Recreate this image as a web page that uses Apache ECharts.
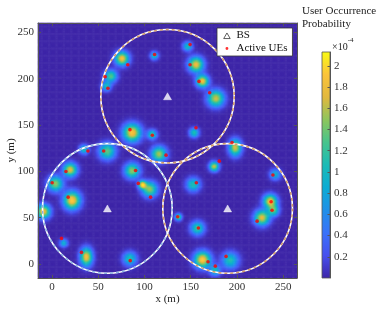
<!DOCTYPE html>
<html><head><meta charset="utf-8">
<script src="https://cdn.jsdelivr.net/npm/echarts@6/dist/echarts.min.js"></script>
<style>html,body{margin:0;padding:0;background:#fff}#c{width:381px;height:312px}</style>
</head><body><div id="c"></div>
<script>
// ---- data ----
const xTicks = [0, 50, 100, 150, 200, 250];
const yTicks = [0, 50, 100, 150, 200, 250];
const cbTicks = [0.2, 0.4, 0.6, 0.8, 1, 1.2, 1.4, 1.6, 1.8, 2];
const bsX = [60, 125, 190];
const bsY = [60, 181, 60];
const cellR = [70, 72, 70];
const ueX = [82, 111, 57.7, 60.6, 84.4, 108.6, 39, 56, 123.4, 15.2, 0.3, 17.6, 90.5, 93.4, 106.7, 10.4, 32, 84.7,
             149.4, 149.4, 159, 170.6, 155.8, 194.8, 181, 239, 156.2, 237, 238, 221.9, 136, 158.4, 168.8, 188.3, 176.7];
const ueY = [215, 226, 202, 189.7, 145, 139, 122, 122, 117.5, 99.9, 87.7, 72.2, 101, 87, 72.2, 27.7, 12.6, 3.7,
             236.7, 214.9, 197, 184.7, 147, 131, 111, 96, 87.7, 67.2, 58, 46.3, 51, 39, 2.6, 8.3, -2.2];
// occurrence-probability hot spots (x, y, peak in 1e-4, spread x, spread y)
const blobX = [76, 111, 64, 59, 87, 108.6, 35, 60, 116, 20, 4, 22, -9, 87, 98, 106, 13, 37.5, 84.5,
               147, 156, 163, 177.5, 154, 198.4, 175.6, 241.7, 153, 236.3, 240, 227.3, 137, 157.6, 163, 193, 176.7];
const blobY = [222, 225, 203, 192, 142, 140, 124, 122, 119, 102, 87, 69, 57, 101, 86, 81, 23, 8, 6,
               235, 215.5, 197.6, 179, 142, 126, 105.6, 97, 86, 68, 58, 50.3, 51, 39, 5, 4.3, -6.5];
const blobPeak = [1.85, 1.0, 1.3, 1.0, 1.9, 1.2, 1.0, 1.35, 1.55, 1.75, 1.5, 1.95, 1.85, 1.5, 1.75, 1.5, 0.9, 1.85, 1.1,
                  1.0, 1.8, 1.85, 1.65, 1.1, 1.7, 1.65, 0.9, 1.1, 1.85, 1.2, 1.75, 1.4, 1.2, 1.95, 1.1, 1.0];
const blobSx = [5, 3, 4.5, 3.5, 6.5, 3.5, 3.5, 6, 5.5, 5, 5.5, 6, 5, 5.5, 3, 5.5, 3, 4.5, 5,
                3.5, 5.5, 4.5, 6, 3.5, 4.5, 3.5, 4, 5, 5, 4, 5.5, 2.5, 5, 6, 6, 4];
const blobSy = [5, 3, 4.5, 3.5, 6.5, 3.5, 3.5, 6, 5.5, 5, 5.5, 6.5, 5, 5.5, 3, 5.5, 3, 6.5, 5,
                3.5, 5.5, 4.5, 6, 3.5, 6, 3.5, 4, 5, 5, 4, 5.5, 2.5, 5, 6, 6, 4];
const xMin = -15, xMax = 265, yMin = -15, yMax = 260;
const cbMax = 2.13;
const parula = ['#3e26a8', '#4750ee', '#3a72fa', '#2090e8', '#0cacd4', '#1bbbb6', '#47c48c',
                '#8ec55c', '#e2b83e', '#fbc43a', '#f9fb15'];

// ---- build field grid ----
const step = 1.25;
const nx = Math.round((xMax - xMin) / step), ny = Math.round((yMax - yMin) / step);
const xCats = [], yCats = [];
for (let i = 0; i < nx; i++) xCats.push(i);
for (let j = 0; j < ny; j++) yCats.push(j);
const field = [];
for (let j = 0; j < ny; j++) {
  const y = yMin + (j + 0.5) * step;
  for (let i = 0; i < nx; i++) {
    const x = xMin + (i + 0.5) * step;
    let v = 0;
    for (let k = 0; k < blobX.length; k++) {
      const dx = (x - blobX[k]) / blobSx[k], dy = (y - blobY[k]) / blobSy[k];
      v += blobPeak[k] * Math.exp(-0.5 * (dx * dx + dy * dy));
    }
    field.push([i, j, v]);
  }
}

const FONT = 'Liberation Serif';
const axisCol = '#555';
const G = () => ({left: 38, top: 23, width: 259, height: 255, containLabel: false, outerBoundsMode: 'none'});
const chart = echarts.init(document.getElementById('c'), null, {renderer: 'canvas'});
const circleCols = ['#8db3e2', '#d29b6c', '#d29b6c'];
const lineBase = () => ({show: true, onZero: false, lineStyle: {color: axisCol, width: 1}});
const tickBase = (vals, len) => ({show: true, inside: true, length: len, customValues: vals, lineStyle: {color: axisCol, width: 1}});

chart.setOption({
  animation: false,
  grid: [G(), G(), {left: 322, top: 52, width: 8, height: 226, containLabel: false, outerBoundsMode: 'none'}],
  xAxis: [
    {type: 'value', gridIndex: 0, min: xMin, max: xMax, position: 'bottom', z: 10,
     name: 'x (m)', nameLocation: 'middle', nameGap: 16, nameMoveOverlap: false,
     nameTextStyle: {fontFamily: FONT, fontSize: 11, color: '#222'},
     axisLine: lineBase(), axisTick: tickBase(xTicks, 3),
     axisLabel: {customValues: xTicks, fontFamily: FONT, fontSize: 11, color: '#333', margin: 4},
     splitLine: {show: false}},
    {type: 'value', gridIndex: 0, min: xMin, max: xMax, position: 'top', z: 10,
     axisLine: lineBase(), axisTick: tickBase(xTicks, 3),
     axisLabel: {show: false}, splitLine: {show: false}},
    {type: 'category', gridIndex: 1, data: xCats, show: false},
    {type: 'value', gridIndex: 2, min: 0, max: 1, show: false}
  ],
  yAxis: [
    {type: 'value', gridIndex: 0, min: yMin, max: yMax, position: 'left', z: 10,
     name: 'y (m)', nameLocation: 'middle', nameGap: 21, nameMoveOverlap: false,
     nameTextStyle: {fontFamily: FONT, fontSize: 11, color: '#222'},
     axisLine: lineBase(), axisTick: tickBase(yTicks, 3),
     axisLabel: {customValues: yTicks, fontFamily: FONT, fontSize: 11, color: '#333', margin: 4},
     splitLine: {show: false}},
    {type: 'value', gridIndex: 0, min: yMin, max: yMax, position: 'right', z: 10,
     axisLine: lineBase(), axisTick: tickBase(yTicks, 3),
     axisLabel: {show: false}, splitLine: {show: false}},
    {type: 'category', gridIndex: 1, data: yCats, show: false},
    {type: 'value', gridIndex: 2, min: 0, max: cbMax, position: 'right', z: 10,
     axisLine: lineBase(), axisTick: tickBase(cbTicks, 2.5),
     axisLabel: {customValues: cbTicks, fontFamily: FONT, fontSize: 11, color: '#333', margin: 4,
                 formatter: v => String(+(+v).toFixed(1))},
     splitLine: {show: false}}
  ],
  visualMap: {type: 'continuous', show: false, min: 0, max: cbMax, seriesIndex: 0,
              inRange: {color: parula}},
  legend: {
    orient: 'vertical', left: 217, top: 28, itemWidth: 9, itemHeight: 9, itemGap: 2,
    padding: [2, 5, 2, 5], backgroundColor: '#fff', borderColor: '#333', borderWidth: 0.8,
    borderRadius: 0, z: 12,
    textStyle: {fontFamily: FONT, fontSize: 11, color: '#111'},
    data: [
      {name: 'BS', icon: 'path://M0,0M10,10M5,2.2L8.6,8.4L1.4,8.4Z',
       itemStyle: {color: '#fff', borderColor: '#222', borderWidth: 0.9}},
      {name: 'Active UEs', icon: 'path://M0,0M10,10M5,3.4A1.6,1.6,0,1,1,4.99,3.4Z',
       itemStyle: {color: '#ff0000'}}
    ]
  },
  graphic: [
    {type: 'text', left: 302, top: 6, style: {text: 'User Occurrence', font: '11px "Liberation Serif"', fill: '#222'}},
    {type: 'text', left: 302, top: 19, style: {text: 'Probability', font: '11px "Liberation Serif"', fill: '#222'}},
    {type: 'text', left: 332, top: 37, style: {
      text: '{a|×10}{b|-4}',
      rich: {a: {fontFamily: FONT, fontSize: 10, fill: '#222', padding: [5, 0, 0, 0]},
             b: {fontFamily: FONT, fontSize: 7, fill: '#222', verticalAlign: 'top', padding: [0, 0, 0, 0]}}
    }}
  ],
  series: [
    {type: 'heatmap', xAxisIndex: 2, yAxisIndex: 2, data: field, progressive: 0, z: 1,
     emphasis: {disabled: true}},
    {type: 'custom', xAxisIndex: 0, yAxisIndex: 0, z: 4, silent: true,
     data: bsX.map((x, i) => [x, bsY[i], cellR[i], i]),
     renderItem: (params, api) => {
       const c = api.coord([api.value(0), api.value(1)]);
       const s = api.size([api.value(2), api.value(2)]);
       const r = (s[0] + s[1]) / 2;
       const col = circleCols[api.value(3)];
       return {type: 'group', children: [
         {type: 'circle', shape: {cx: c[0], cy: c[1], r: r}, style: {fill: 'none', stroke: '#ffffff', lineWidth: 1.6}},
         {type: 'circle', shape: {cx: c[0], cy: c[1], r: r}, style: {fill: 'none', stroke: col, lineWidth: 1.6, lineDash: [3, 3]}}
       ]};
     }},
    {type: 'scatter', name: 'BS', xAxisIndex: 0, yAxisIndex: 0, z: 5, symbol: 'triangle', symbolSize: [8, 7],
     itemStyle: {color: '#ffffff', borderColor: '#ffffff', borderWidth: 0.5},
     data: bsX.map((x, i) => [x, bsY[i]])},
    {type: 'scatter', name: 'Active UEs', xAxisIndex: 0, yAxisIndex: 0, z: 6, symbol: 'circle', symbolSize: 3.6,
     itemStyle: {color: '#ff0000'},
     data: ueX.map((x, i) => [x, ueY[i]])},
    {type: 'custom', xAxisIndex: 3, yAxisIndex: 3, z: 1, silent: true,
     data: [[0, 1, 0, cbMax]],
     renderItem: (params, api) => {
       const p0 = api.coord([api.value(0), api.value(2)]);
       const p1 = api.coord([api.value(1), api.value(3)]);
       return {type: 'rect',
         shape: {x: p0[0], y: p1[1], width: p1[0] - p0[0], height: p0[1] - p1[1]},
         style: {fill: new echarts.graphic.LinearGradient(0, 1, 0, 0,
           parula.map((c, k) => ({offset: k / (parula.length - 1), color: c}))),
           stroke: axisCol, lineWidth: 0.8}};
     }}
  ]
});
</script></body></html>
